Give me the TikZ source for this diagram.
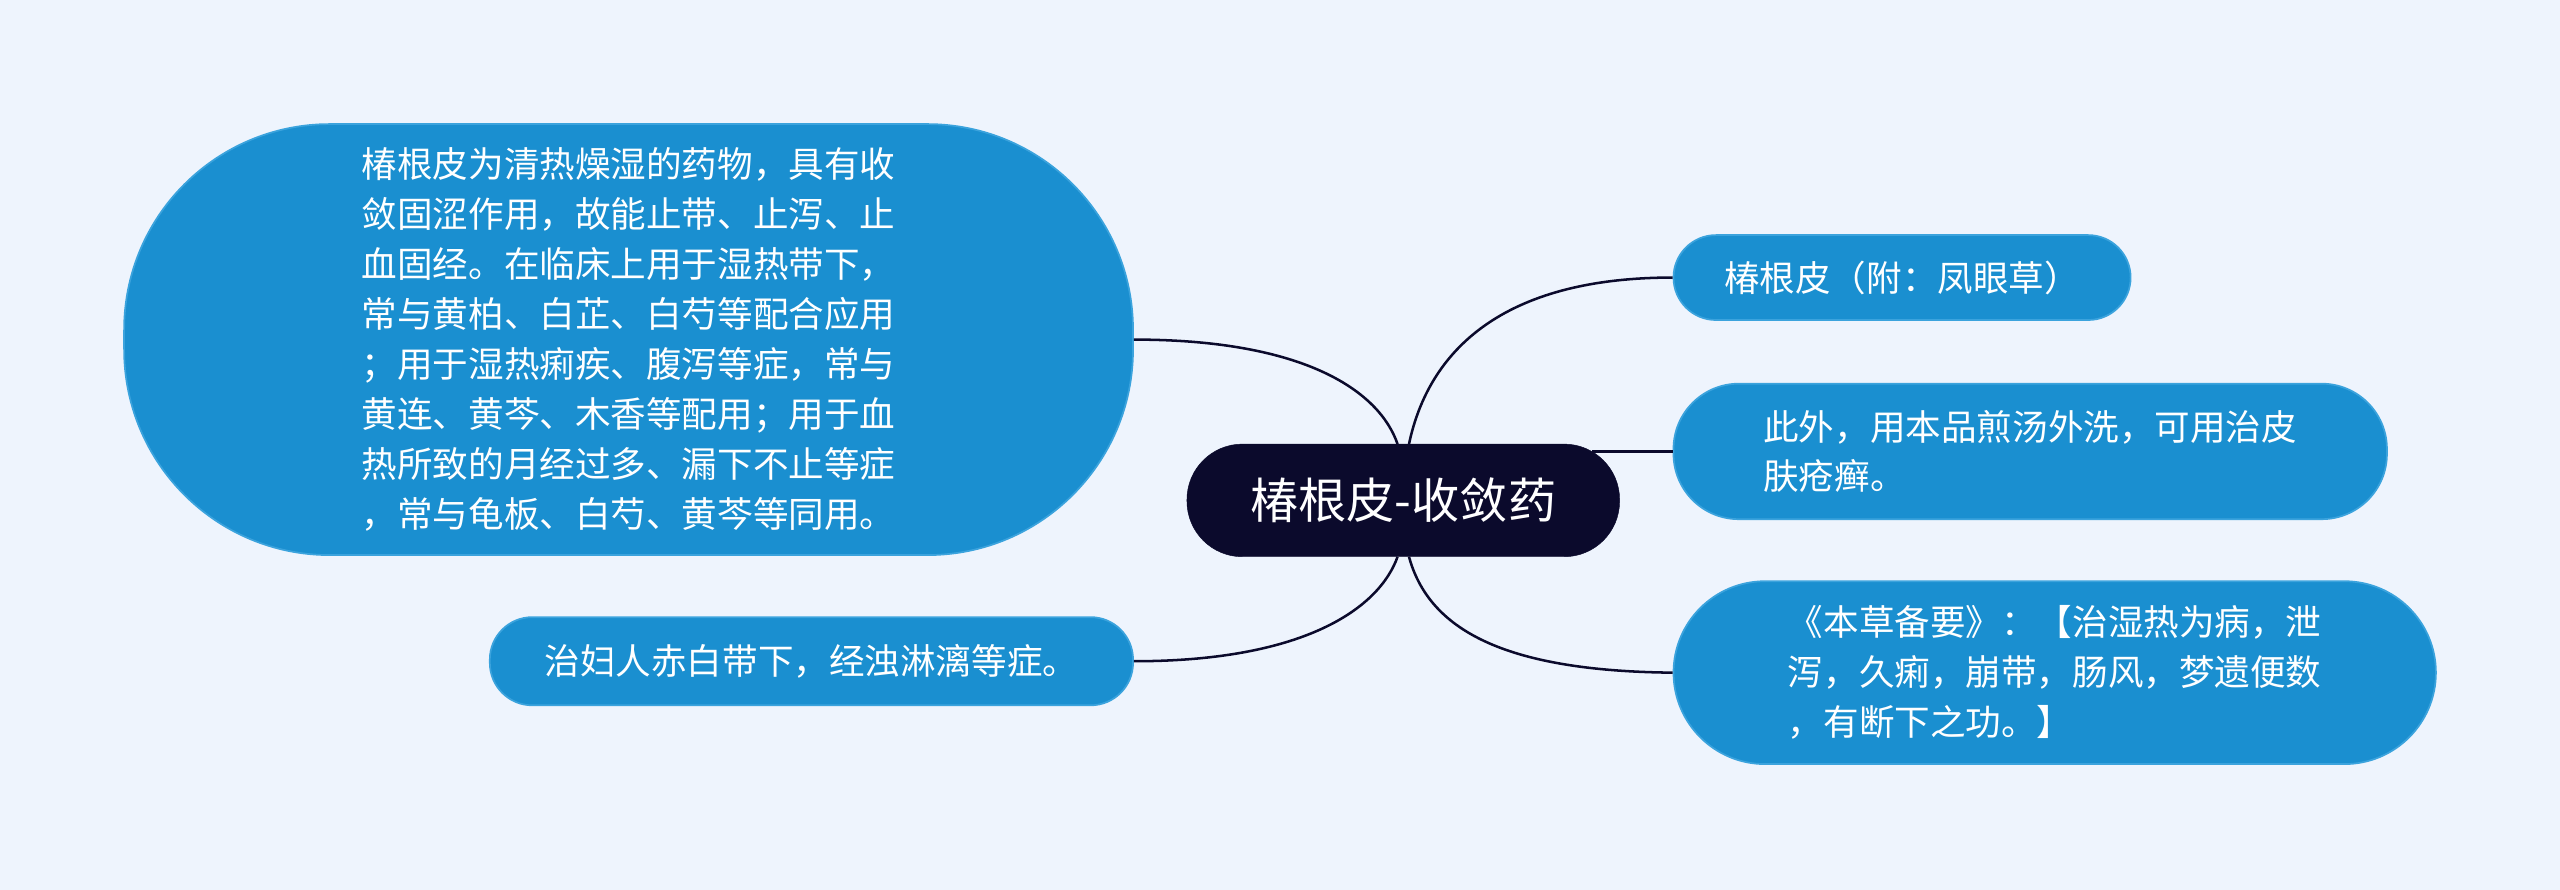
\documentclass[tikz,border=0pt]{standalone}
\usepackage{fontspec}
\setmainfont{Noto Sans CJK SC}
\definecolor{bg}{HTML}{EEF4FD}
\definecolor{boxc}{HTML}{1A8FD0}
\definecolor{boxb}{HTML}{3BA3DD}
\definecolor{ctr}{HTML}{0B0A2C}
\begin{document}
\begin{tikzpicture}[x=0.05cm,y=-0.05cm,
  leaf/.style={draw=boxb,line width=1.5pt,fill=boxc,text=white,align=left,font=\fontsize{31}{43.5}\selectfont,inner sep=0pt},
  conn/.style={draw=ctr,line width=2.2pt}]
\fill[bg] (0,0) rectangle (1568,545);
\useasboundingbox (0,0) rectangle (1568,545);
\node[draw=ctr,fill=ctr,text=white,rounded corners=1.7cm,minimum width=13.25cm,minimum height=3.45cm,font=\fontsize{42}{50}\selectfont] (c) at (859.5,306.5) {椿根皮-收敛药};
\node[leaf,rounded corners=6.3cm,minimum width=30.9cm,minimum height=13.2cm] (l1) at (385,208) {椿根皮为清热燥湿的药物，具有收\\敛固涩作用，故能止带、止泻、止\\血固经。在临床上用于湿热带下，\\常与黄柏、白芷、白芍等配合应用\\；用于湿热痢疾、腹泻等症，常与\\黄连、黄芩、木香等配用；用于血\\热所致的月经过多、漏下不止等症\\，常与龟板、白芍、黄芩等同用。};
\node[leaf,rounded corners=1.3cm,minimum width=19.7cm,minimum height=2.7cm] (l2) at (497,405) {治妇人赤白带下，经浊淋漓等症。};
\node[leaf,rounded corners=1.3cm,minimum width=14cm,minimum height=2.6cm] (r1) at (1165,170) {椿根皮（附：凤眼草）};
\node[leaf,rounded corners=2cm,minimum width=21.85cm,minimum height=4.15cm] (r2) at (1243.5,276.5) {此外，用本品煎汤外洗，可用治皮\\肤疮癣。};
\node[leaf,rounded corners=2.8cm,minimum width=23.35cm,minimum height=5.6cm] (r3) at (1258.5,412) {《本草备要》：【治湿热为病，泄\\泻，久痢，崩带，肠风，梦遗便数\\，有断下之功。】};
\coordinate (ct) at (856,272);
\coordinate (cb) at (856,341);
\coordinate (ctr2) at (863,272);
\coordinate (cbr) at (863,341);
\draw[conn] (l1.east) .. controls (800,208) and (845,240) .. (ct);
\draw[conn] (l2.east) .. controls (800,405) and (845,372) .. (cb);
\draw[conn] (ctr2) .. controls (875,215) and (920,170) .. (r1.west);
\draw[conn] (c.east|-r2.west) ++(-17,0) -- (r2.west);
\draw[conn] (cbr) .. controls (875,385) and (920,411) .. (r3.west);
\end{tikzpicture}
\end{document}
